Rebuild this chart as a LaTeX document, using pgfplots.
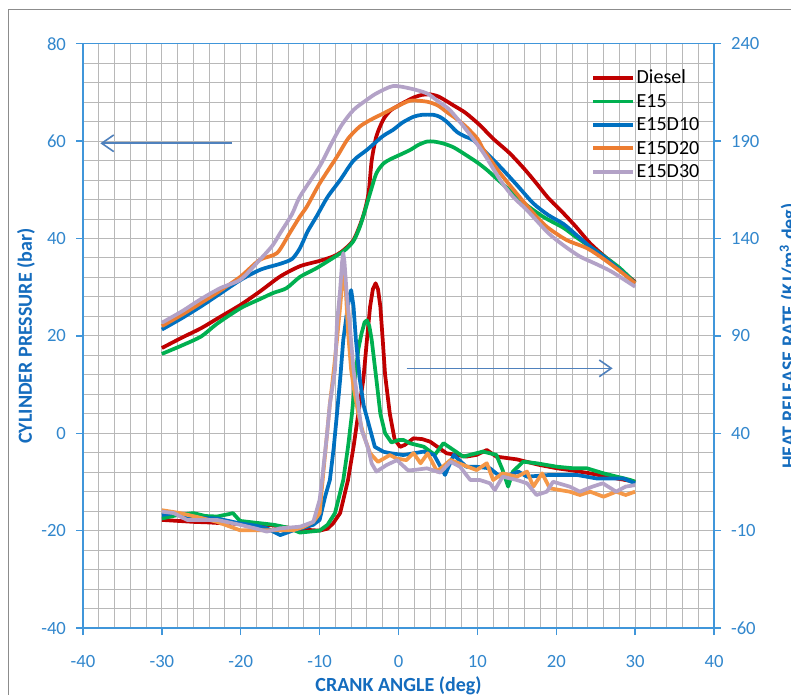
\documentclass[border=0pt]{standalone}
\usepackage{fontspec}
\setmainfont{Carlito}
\usepackage{pgfplots}
\pgfplotsset{compat=1.18}
\usetikzlibrary{arrows.meta}
\definecolor{axblue}{RGB}{64,150,218}
\definecolor{tkblue}{RGB}{50,135,205}
\definecolor{ttblue}{RGB}{20,108,190}
\definecolor{cDiesel}{RGB}{192,0,0}
\definecolor{cE15}{RGB}{0,176,80}
\definecolor{cD10}{RGB}{0,112,192}
\definecolor{cD20}{RGB}{237,125,49}
\definecolor{cD20b}{RGB}{245,152,72}
\definecolor{cD30}{RGB}{179,162,199}
\definecolor{arr}{RGB}{79,129,189}
\definecolor{gridc}{RGB}{184,184,184}
\pgfplotsset{base/.style={
  at={(62.25pt,49.5pt)}, anchor=south west, scale only axis,
  width=473.25pt, height=438.2pt, xmin=-40, xmax=40,
  axis line style={axblue, line width=1.1pt},
  tick style={axblue, line width=1.1pt},
  major tick length=5.25pt, minor tick length=0pt, tick align=outside,
  ticklabel style={font=\fontsize{14}{16}\selectfont, text=tkblue},
  /pgf/number format/assume math mode=true, clip=false},
  pline/.style={line width=2.8pt, line join=round, smooth, tension=0.45},
  hline/.style={line width=2.8pt, line join=round}}
\begin{document}
\begin{tikzpicture}
\useasboundingbox (0,0) rectangle (593.25pt,520.5pt);
\clip (0,0) rectangle (593.25pt,520.5pt);
\fill[white] (0,0) rectangle (593.25pt,520.5pt);
\draw[gray!90, line width=1.1pt] (6.2pt,-10pt) rectangle (620pt,513.5pt);
\begin{axis}[base,
  ymin=-40, ymax=80,
  xtick={-40,-30,...,40}, ytick={-40,-20,...,80},
  minor x tick num=4, minor y tick num=4,
  xtick pos=bottom, ytick pos=left,
  grid=both, major grid style={gridc, line width=0.75pt}, minor grid style={gridc, line width=0.75pt},
  xticklabel style={yshift=-12pt}, yticklabel style={xshift=-4pt},
  legend style={at={(0.805,0.962)}, anchor=north west, draw=none, fill=none, inner sep=0pt,
    font=\fontsize{15}{18}\selectfont, nodes={inner sep=1.3pt, text height=12pt, text depth=3pt}},
  legend cell align=left,
  legend image code/.code={\draw[#1] (0pt,0pt) -- (30pt,0pt);},
]
\addplot[cDiesel, pline] coordinates {
(-30,17.5) (-27.5,19.6) (-25,21.6) (-22.5,24.0) (-20,26.4) (-17.5,29.2) (-15,32.2) (-12.5,34.3) (-10,35.4) (-8.3,36.3) (-7.2,37.3) (-5.7,39.7) (-4.5,44.5) (-3.8,49.3) (-3.4,56.0) (-2.8,61.0) (-1.9,64.5) (-1,66.3) (0,67.3) (1,68.2) (2,69.0) (3,69.5) (4,69.6) (5,69.2) (6,68.3) (7,67.3) (8.5,65.8) (10.3,63.3) (12,60.5) (14.1,57.5) (16,54.2) (17.5,51.3) (19,48.3) (20.9,45.2) (22.5,42.4) (24.3,39.0) (26,36.5) (27.2,34.9) (28.5,33.0) (30,31.1)};
\addlegendentry{Diesel}
\addplot[cE15, pline] coordinates {
(-30,16.3) (-27.5,18.0) (-25,19.9) (-23,22.5) (-20,25.7) (-17.5,27.6) (-15.9,28.8) (-14.2,29.8) (-12.5,32.1) (-10.4,33.9) (-8.3,36.0) (-6.8,37.6) (-5.7,39.5) (-4.9,42.4) (-4.2,46.0) (-3.6,49.3) (-2.8,53.4) (-1.9,55.4) (-1,56.3) (0.2,57.2) (1.5,58.2) (2.5,59.2) (3.6,59.9) (4.5,59.9) (5.7,59.5) (7,58.7) (8.6,57.1) (10,55.6) (11.2,54.1) (12.5,52.2) (14.1,49.9) (15.5,47.8) (16.7,46.3) (18.5,44.3) (20.9,42.2) (22.5,40.3) (24.3,38.3) (26,36.4) (28,34.0) (30,30.9)};
\addlegendentry{E15}
\addplot[cD10, pline] coordinates {
(-30,21.3) (-27.5,23.6) (-25,26.1) (-22.5,28.8) (-20,31.5) (-17.5,33.6) (-15,34.8) (-13.5,35.8) (-12.5,38.0) (-11.5,41.5) (-10.4,44.5) (-9,48.5) (-7.4,52.0) (-5.7,56.0) (-4,58.2) (-2,61.0) (-0.7,62.3) (0.5,63.8) (1.9,65.0) (3,65.4) (4.4,65.4) (5.2,65.0) (6.1,64.0) (7.4,61.9) (8.5,60.9) (9.5,60.2) (11,57.8) (12.9,54.7) (15,51.0) (17.1,47.2) (19,44.8) (20.9,43.0) (22.5,40.8) (24.3,38.3) (26,36.3) (28,33.6) (30,30.8)};
\addlegendentry{E15D10}
\addplot[cD20, pline] coordinates {
(-30,22.0) (-27.5,24.3) (-25,26.8) (-22.5,29.4) (-20,32.2) (-17.6,35.6) (-15.4,37.0) (-13.8,41.1) (-12.5,44.5) (-11.6,46.6) (-10,51.3) (-7.8,56.8) (-6.4,60.5) (-4.9,63.0) (-3.5,64.4) (-1.9,65.7) (-0.2,67.1) (1.5,68.3) (3.6,68.1) (5,67.3) (6.1,66.0) (7.4,64.5) (8.6,62.9) (10,60.5) (10.8,58.2) (12.9,53.4) (15,49.2) (17.1,45.2) (18.8,42.4) (21.3,39.7) (23.9,38.0) (26,35.8) (28,33.4) (30,30.8)};
\addlegendentry{E15D20}
\addplot[cD30, pline] coordinates {
(-30,22.7) (-27.5,25.0) (-25.1,27.5) (-22.6,29.8) (-20,31.6) (-17.6,35.6) (-16,38.5) (-15,41.1) (-13.5,45.0) (-12.5,48.6) (-10,54.8) (-8.5,59.5) (-7.2,63.3) (-5.7,66.4) (-4,68.5) (-2.8,69.8) (-0.7,71.3) (1.5,70.8) (3.6,69.8) (5,68.2) (6.5,66.4) (8.6,62.3) (10.8,57.5) (12.9,52.0) (14.5,48.6) (16.3,45.8) (19,41.1) (21,38.5) (23,36.3) (25,34.8) (27,33.2) (30,30.1)};
\addlegendentry{E15D30}
\draw[arr, line width=1.2pt, -{Straight Barb[length=9pt, width=12.5pt]}] (axis cs:-21.1,59.55) -- (axis cs:-37.8,59.55);
\draw[arr, line width=1.2pt, -{Straight Barb[length=9pt, width=12.5pt]}] (axis cs:1.04,13.33) -- (axis cs:27.15,13.33);
\end{axis}
\begin{axis}[base,
  ymin=-60, ymax=240, ytick={-60,-10,...,240},
  axis x line=none, axis y line*=right,
  yticklabel style={xshift=4pt},
]
\addplot[cDiesel, hline] coordinates {
(-30,-4.5) (-28,-5) (-26,-5.5) (-24,-5.8) (-22,-6.3) (-20,-6.5) (-18,-7) (-16,-7.3) (-14,-8.5) (-12,-9.5) (-10,-10) (-9,-9) (-8.3,-6.3) (-7.4,-1) (-6.4,16) (-5.7,33) (-5.1,50) (-4.46,67.5) (-4.0,88) (-3.6,105) (-3.25,114) (-2.9,117) (-2.6,114) (-2.3,105) (-2.0,88) (-1.7,70) (-1.1,50) (-0.5,37) (0.2,33) (0.8,34) (1.9,37.4) (3,37) (4.0,35.7) (6.1,29.7) (8.6,28.0) (9.9,28.9) (11.2,31.4) (12.4,28.0) (15.0,26.6) (17.9,23.7) (20.1,22.0) (22.2,20.8) (24.3,19.4) (26.8,17.4) (30,15.1)};
\addplot[cE15, hline] coordinates {
(-30,-3.75) (-28,-2) (-26,-1) (-24.5,-2.5) (-23,-2.75) (-21.5,-1.5) (-21,-1) (-20.1,-5) (-18,-6) (-15.8,-7) (-14,-8.5) (-12.5,-11) (-10,-10) (-9,-7) (-8.05,-1) (-7.0,16) (-6.4,33) (-5.9,50) (-5.5,67.5) (-5.1,83) (-4.7,91) (-4.3,97) (-4.0,98) (-3.7,95) (-3.4,88) (-2.8,67.5) (-2.3,50) (-1.7,40) (-0.9,35.3) (0,36.5) (0.6,36.6) (1.5,34.8) (3.2,33.1) (4.6,28.9) (5.7,34.9) (8.2,28) (10.7,30.6) (12.4,28.9) (13.2,21.1) (13.9,12.6) (14.5,20.3) (15.8,25.4) (17.5,24.6) (20.1,22.8) (22.2,22) (23.9,22) (26,19.4) (29.4,16) (30,15.1)};
\addplot[cD10, hline] coordinates {
(-30,-2) (-28.5,-1) (-26.8,-3.75) (-25,-3.5) (-23,-3.75) (-20.1,-6.3) (-18,-7.5) (-16.7,-8.8) (-15,-12.3) (-13.3,-9.8) (-12,-8.5) (-10.8,-7) (-10,-4.5) (-9.3,7.5) (-8.7,16) (-8.2,33) (-7.8,50) (-7.4,67.5) (-7.0,88) (-6.6,100) (-6.2,111) (-6.0,113.5) (-5.7,105) (-5.4,88) (-4.9,67.5) (-4.4,54) (-4.0,48) (-3.0,33) (-1.9,30.5) (-1.1,29.8) (0.6,28.8) (1.5,29.4) (3.2,30.6) (4.5,28.9) (5.9,18.6) (7.0,28.9) (8.6,22.8) (9.9,22.8) (11.6,22) (12.9,17.7) (14.1,18.6) (15.2,20.3) (16.3,17.7) (19.2,18.6) (22.6,18.6) (25.1,16.8) (28.5,16.8) (30,14.3)};
\addplot[cD20b, hline] coordinates {
(-30,0.5) (-27.7,-1) (-25,-3.5) (-23,-5.5) (-20.1,-9.8) (-16.7,-9.8) (-13.3,-9.8) (-12,-8) (-10.8,-5.5) (-10,-1) (-9.5,21) (-9.1,38) (-8.7,55) (-8.2,72.5) (-7.8,88) (-7.4,105) (-7.1,118) (-6.9,122) (-6.7,115) (-6.4,92) (-6.0,72.5) (-5.7,64) (-5.1,50) (-4.5,40) (-3.6,29.7) (-2.6,25.3) (-1.1,28.8) (-0.2,27) (1.0,26.2) (1.9,29.8) (2.8,24.6) (3.7,29.7) (4.9,20.3) (6.6,26.3) (8.2,23.7) (9.9,21.1) (11.2,24.6) (12.0,16) (13.2,19.4) (15,17.7) (16.3,20.3) (17.1,12.6) (18.2,19.4) (19.2,11.7) (21.7,10) (23,8.3) (24.3,10) (26,7.4) (27.6,10) (28.8,8.3) (30,10)};
\addplot[cD30, hline] coordinates {
(-30,-0.25) (-28.5,-1) (-26.8,-4.5) (-23,-4.5) (-20.1,-7) (-18,-9) (-16.7,-10.5) (-15,-8.8) (-12.5,-8) (-10.8,-5.5) (-10,5.75) (-9.7,15.8) (-9.1,38) (-8.7,55) (-8.05,72.5) (-7.8,96.5) (-7.4,113.5) (-7.15,128) (-7.0,132.5) (-6.85,128) (-6.6,113.5) (-6.2,96.5) (-5.7,72.5) (-5.1,55) (-4.7,42) (-4.2,36.5) (-3.8,31.5) (-3.4,24.5) (-2.8,20.3) (-1.5,23.7) (-0.2,26.2) (1.2,21) (1.9,21.1) (3.6,22) (5.3,19.8) (6.6,25.4) (7.8,22.8) (9.1,16) (10.3,16) (11.6,14.3) (12.2,10.8) (13.2,17.7) (15,16) (16.3,14.3) (17.5,8.3) (18.8,10) (19.6,15.1) (21.7,12.6) (23,10) (24.6,12.6) (25.9,14.3) (27.6,10) (28.8,12.6) (30,13.4)};
\end{axis}
\node[rotate=90, anchor=base, text=ttblue, font=\bfseries\fontsize{15}{18}\selectfont] at (24pt,268.5pt) {CYLINDER PRESSURE (bar)};
\node[rotate=90, anchor=base, text=ttblue, font=\bfseries\fontsize{15}{18}\selectfont] at (596.8pt,268.5pt) {HEAT RELEASE RATE (KJ/m\textsuperscript{3} deg)};
\node[anchor=base, text=ttblue, font=\bfseries\fontsize{15}{18}\selectfont] at (298.9pt,2.25pt) {CRANK ANGLE (deg)};
\end{tikzpicture}
\end{document}
